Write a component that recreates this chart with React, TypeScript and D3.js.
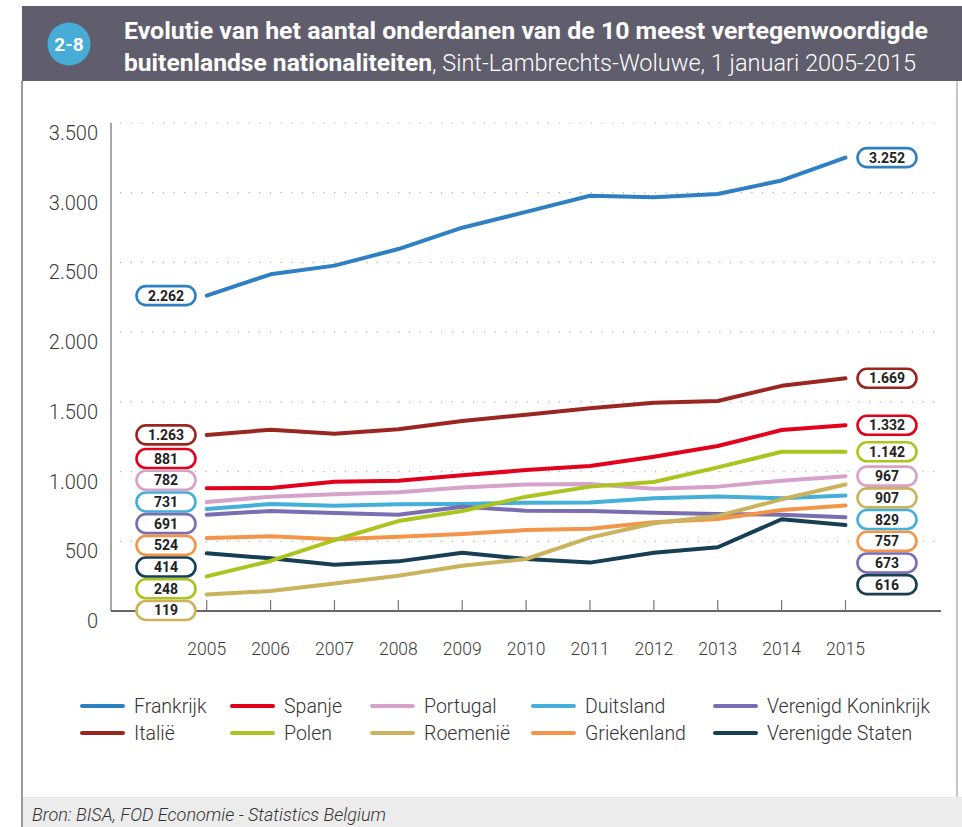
import React from "react";
import * as d3 from "d3";

const years = [2005, 2006, 2007, 2008, 2009, 2010, 2011, 2012, 2013, 2014, 2015];

const frankrijk = [2262, 2415, 2477, 2596, 2749, 2863, 2978, 2968, 2991, 3088, 3252];
const italie = [1263, 1300, 1272, 1303, 1363, 1408, 1454, 1494, 1506, 1615, 1669];
const spanje = [881, 882, 927, 935, 973, 1011, 1040, 1107, 1183, 1298, 1332];
const portugal = [782, 820, 837, 851, 885, 908, 911, 877, 892, 935, 967];
const duitsland = [731, 767, 755, 765, 767, 777, 779, 808, 822, 808, 829];
const verenigdKoninkrijk = [691, 717, 703, 691, 748, 719, 717, 705, 696, 691, 673];
const griekenland = [524, 536, 514, 533, 552, 581, 590, 636, 660, 724, 757];
const verenigdeStaten = [414, 378, 332, 356, 418, 373, 347, 418, 457, 658, 616];
const polen = [248, 359, 509, 645, 717, 820, 892, 925, 1030, 1142, 1142];
const roemenie = [119, 143, 198, 253, 325, 373, 526, 629, 681, 801, 907];

const yTicks = [0, 500, 1000, 1500, 2000, 2500, 3000, 3500];

const seriesNames = [
  "Frankrijk", "Spanje", "Portugal", "Duitsland", "Verenigd Koninkrijk",
  "Italië", "Polen", "Roemenië", "Griekenland", "Verenigde Staten",
];
const seriesValues = [
  frankrijk, spanje, portugal, duitsland, verenigdKoninkrijk,
  italie, polen, roemenie, griekenland, verenigdeStaten,
];
const seriesColors = [
  "#2f80c3", "#e3001b", "#d6a2ca", "#44afd8", "#7a6db1",
  "#9a2622", "#abc41f", "#cbb35e", "#f39548", "#173f54",
];

const titleLine1 = "Evolutie van het aantal onderdanen van de 10 meest vertegenwoordigde";
const titleLine2Bold = "buitenlandse nationaliteiten";
const titleLine2Rest = ", Sint-Lambrechts-Woluwe, 1 januari 2005-2015";
const badge = "2-8";
const source = "Bron: BISA, FOD Economie - Statistics Belgium";

const W = 962;
const H = 827;
const FONT = "Roboto, 'Open Sans', sans-serif";

const nl = d3.formatLocale({ decimal: ",", thousands: ".", grouping: [3], currency: ["€", ""] });
const fmt = nl.format(",d");

function layoutPush(t: number[], d: number): number[] {
  const out: number[] = [];
  t.forEach((v, i) => {
    out.push(i === 0 ? v : Math.max(v, out[i - 1] + d));
  });
  return out;
}

function layoutCenter(t: number[], d: number): number[] {
  const z = t.map((v, i) => v - i * d);
  const blocks: { sum: number; n: number }[] = [];
  z.forEach((v) => {
    blocks.push({ sum: v, n: 1 });
    while (blocks.length > 1) {
      const a = blocks[blocks.length - 2];
      const b = blocks[blocks.length - 1];
      if (b.sum / b.n < a.sum / a.n) {
        blocks.pop();
        a.sum += b.sum;
        a.n += b.n;
      } else break;
    }
  });
  const res: number[] = [];
  blocks.forEach((b) => {
    for (let k = 0; k < b.n; k++) res.push(b.sum / b.n);
  });
  return res.map((v, i) => v + i * d);
}

export default function App() {
  const x = d3.scaleLinear().domain([2005, 2015]).range([206.7, 845.5]);
  const y = d3.scaleLinear().domain([0, 3500]).range([611, 123]);
  const line = d3
    .line<number>()
    .x((_, i) => x(years[i]))
    .y((v) => y(v));

  const pillW = 59;
  const pillH = 19;
  const gap = 21.7;

  const leftOrder = seriesValues
    .map((s, i) => ({ i, v: s[0] }))
    .sort((a, b) => b.v - a.v);
  const leftY = layoutCenter(leftOrder.map((o) => y(o.v)), gap);
  const rightOrder = seriesValues
    .map((s, i) => ({ i, v: s[s.length - 1] }))
    .sort((a, b) => b.v - a.v);
  const rightY = layoutPush(rightOrder.map((o) => y(o.v)), gap);

  const legendCols = [82, 232, 372, 533, 715];
  const legendRows = [706, 733];

  const drawOrder = [0, 5, 1, 2, 3, 4, 8, 9, 7, 6];

  return (
    <svg
      width={W}
      height={H}
      style={{ position: "absolute", left: 0, top: 0, background: "#fff" }}
      fontFamily={FONT}
    >
      {/* header */}
      <rect x={22} y={6} width={W - 22} height={75} fill="#605e6c" />
      <circle cx={69} cy={44} r={21.5} fill="#47acd6" />
      <text x={69} y={51} textAnchor="middle" fill="#fff" fontWeight="bold" fontSize={19}>
        {badge}
      </text>
      <text x={124} y={39} fill="#fff" fontWeight="bold" fontSize={24} textLength={804} lengthAdjust="spacingAndGlyphs">
        {titleLine1}
      </text>
      <text x={124} y={71} fill="#fff" fontWeight="bold" fontSize={24} textLength={308} lengthAdjust="spacingAndGlyphs">
        {titleLine2Bold}
      </text>
      <text x={432} y={71} fill="#fff" fontSize={24} fontWeight={300} textLength={484} lengthAdjust="spacingAndGlyphs">
        {titleLine2Rest}
      </text>

      {/* frame */}
      <line x1={22} x2={22} y1={81} y2={H} stroke="#9a99a4" strokeWidth={2} />
      <line x1={957} x2={957} y1={81} y2={797} stroke="#b4b3bc" strokeWidth={1.5} />

      {/* footer */}
      <rect x={23} y={797} width={W - 23} height={30} fill="#ececec" />
      <text x={32} y={821} fill="#333" fontStyle="italic" fontWeight={300} fontSize={17.5} textLength={354} lengthAdjust="spacingAndGlyphs">
        {source}
      </text>

      {/* gridlines */}
      {yTicks.filter((t) => t > 0).map((t) => (
        <line
          key={"g" + t}
          x1={120}
          x2={940}
          y1={y(t)}
          y2={y(t)}
          stroke="#b0b0b0"
          strokeWidth={1.2}
          strokeDasharray="1.2 9.5"
        />
      ))}

      {/* y tick labels */}
      {yTicks.map((t) => (
        <text key={"yl" + t} x={98} y={y(t) + 17} textAnchor="end" fill="#3a3a3a" fontSize={20} fontWeight={300}>
          {fmt(t)}
        </text>
      ))}

      {/* axes */}
      <line x1={111} x2={111} y1={123} y2={611} stroke="#8a8a8a" strokeWidth={1.5} />
      <line x1={111} x2={941} y1={611} y2={611} stroke="#333" strokeWidth={1.5} />
      {years.map((yr) => (
        <line key={"t" + yr} x1={x(yr)} x2={x(yr)} y1={611} y2={600} stroke="#777" strokeWidth={1.2} />
      ))}
      {years.map((yr) => (
        <text key={"xl" + yr} x={x(yr)} y={655} textAnchor="middle" fill="#3a3a3a" fontSize={17.5} fontWeight={300}>
          {yr}
        </text>
      ))}

      {/* lines */}
      {drawOrder.map((i) => (
        <path
          key={"l" + i}
          d={line(seriesValues[i]) || ""}
          fill="none"
          stroke={seriesColors[i]}
          strokeWidth={4}
          strokeLinejoin="round"
          strokeLinecap="round"
        />
      ))}

      {/* left pills */}
      {leftOrder.map((o, k) => (
        <g key={"lp" + o.i} transform={`translate(166,${leftY[k]})`}>
          <rect
            x={-pillW / 2}
            y={-pillH / 2}
            width={pillW}
            height={pillH}
            rx={9.5}
            fill="#fff"
            stroke={seriesColors[o.i]}
            strokeWidth={2.6}
          />
          <text y={5} textAnchor="middle" fontWeight="bold" fontSize={14} fill="#222">
            {fmt(o.v)}
          </text>
        </g>
      ))}

      {/* right pills */}
      {rightOrder.map((o, k) => (
        <g key={"rp" + o.i} transform={`translate(887,${rightY[k]})`}>
          <rect
            x={-pillW / 2}
            y={-pillH / 2}
            width={pillW}
            height={pillH}
            rx={9.5}
            fill="#fff"
            stroke={seriesColors[o.i]}
            strokeWidth={2.6}
          />
          <text y={5} textAnchor="middle" fontWeight="bold" fontSize={14} fill="#222">
            {fmt(o.v)}
          </text>
        </g>
      ))}

      {/* legend */}
      {seriesNames.map((name, i) => {
        const cx = legendCols[i % 5];
        const cy = legendRows[Math.floor(i / 5)];
        return (
          <g key={"lg" + i}>
            <line x1={cx} x2={cx + 41} y1={cy} y2={cy} stroke={seriesColors[i]} strokeWidth={4} strokeLinecap="round" />
            <text x={cx + 52} y={cy + 7} fontSize={19.5} fontWeight={300} fill="#333">
              {name}
            </text>
          </g>
        );
      })}
    </svg>
  );
}
